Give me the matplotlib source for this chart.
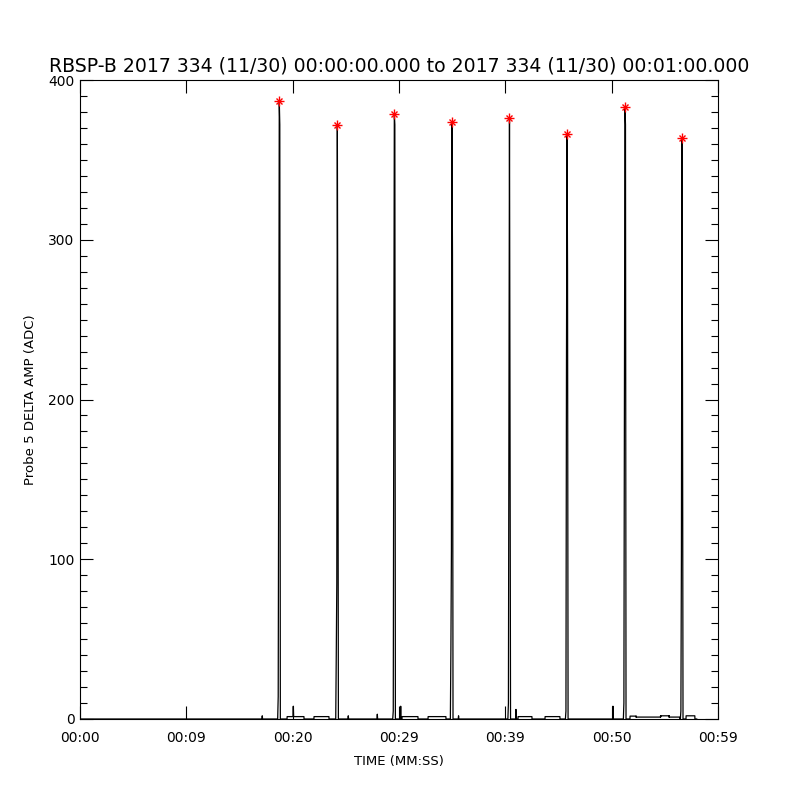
import numpy as np
import matplotlib
matplotlib.use("Agg")
import matplotlib.pyplot as plt

# Data
title = "RBSP-B 2017 334 (11/30) 00:00:00.000 to 2017 334 (11/30) 00:01:00.000"
x_ticks = [0, 10, 20, 30, 40, 50, 60]  # seconds
x_tick_labels = ["00:00", "00:09", "00:20", "00:29", "00:39", "00:50", "00:59"]
y_ticks = [0, 100, 200, 300, 400]

# spikes: time of peak (s) and the samples around it (ADC)
spike_peak_t = [18.74, 24.20, 29.56, 34.98, 40.39, 45.80, 51.25, 56.61]
spike_vals = [
    [0, 14, 183, 387, 372, 0],
    [0, 40, 85, 372, 228, 0],
    [0, 5, 203, 379, 372, 0],
    [0, 43, 105, 374, 290, 0],
    [0, 10, 195, 376, 190, 0],
    [0, 5, 225, 366, 281, 0],
    [0, 10, 200, 383, 372, 0],
    [0, 5, 103, 364, 222, 0],
]
sample_dt = 0.05  # s

# low plateaus between spikes: start (s), end (s), level (ADC)
plat_start = [19.47, 22.00, 30.28, 32.73, 41.19, 43.73, 51.72, 52.30, 54.60, 55.40, 56.99]
plat_end = [21.07, 23.42, 31.79, 34.42, 42.51, 45.14, 52.30, 54.60, 55.40, 56.42, 57.83]
plat_level = [1.5, 1.5, 1.5, 1.5, 1.5, 1.5, 1.8, 1.2, 2.0, 1.2, 2.0]

# short single-sample blips: time (s), value (ADC)
blip_t = [17.14, 20.06, 25.23, 27.96, 30.16, 35.60, 41.00, 50.12]
blip_v = [2, 8, 2, 3, 8, 2, 6, 8]

end_t = 58.0


def base_level(t):
    for s, e, lv in zip(plat_start, plat_end, plat_level):
        if s <= t <= e:
            return lv
    return 0.0


pts = [(0.0, 0.0), (end_t, 0.0)]
for tp, vals in zip(spike_peak_t, spike_vals):
    k = int(np.argmax(vals))
    for i, v in enumerate(vals):
        pts.append((tp + (i - k) * sample_dt, v))
for s, e, lv in zip(plat_start, plat_end, plat_level):
    pts += [(s, base_level(s - 0.02)), (s + 0.01, lv), (e - 0.01, lv), (e, base_level(e + 0.02))]
for t, v in zip(blip_t, blip_v):
    b = base_level(t)
    pts += [(t - 0.03, b), (t, v), (t + 0.03, b)]
pts.sort(key=lambda p: p[0])
t_arr = np.array([p[0] for p in pts])
v_arr = np.array([p[1] for p in pts])

peak_v = [max(v) for v in spike_vals]

plt.rcParams["font.family"] = "DejaVu Sans"
fig = plt.figure(figsize=(8, 8), dpi=100)
ax = fig.add_axes([0.1, 0.10125, 0.7975, 0.79875])

ax.plot(t_arr, v_arr, color="black", lw=0.9)
ax.plot(spike_peak_t, peak_v, ls="none", marker="+", ms=6.5, mew=1.0, color="red")
ax.plot(spike_peak_t, peak_v, ls="none", marker="x", ms=4.5, mew=1.0, color="red")

ax.set_xlim(0, 60)
ax.set_ylim(0, 400)
ax.set_xticks(x_ticks)
ax.set_xticklabels(x_tick_labels)
ax.set_yticks(y_ticks)
ax.set_yticks(np.arange(0, 401, 10), minor=True)

ax.tick_params(which="both", direction="in", top=True, right=True, width=0.8)
ax.tick_params(which="major", length=9.5)
ax.tick_params(which="minor", length=5)
ax.tick_params(axis="x", pad=9, labelsize=10)
ax.tick_params(axis="y", pad=4, labelsize=10)
for sp in ax.spines.values():
    sp.set_linewidth(0.8)

ax.set_xlabel("TIME (MM:SS)", fontsize=9.5, labelpad=7)
ax.set_ylabel("Probe 5 DELTA AMP (ADC)", fontsize=9.5, labelpad=8)
ax.set_title(title, fontsize=13.6, pad=6)

fig.savefig("out.png", dpi=100)
